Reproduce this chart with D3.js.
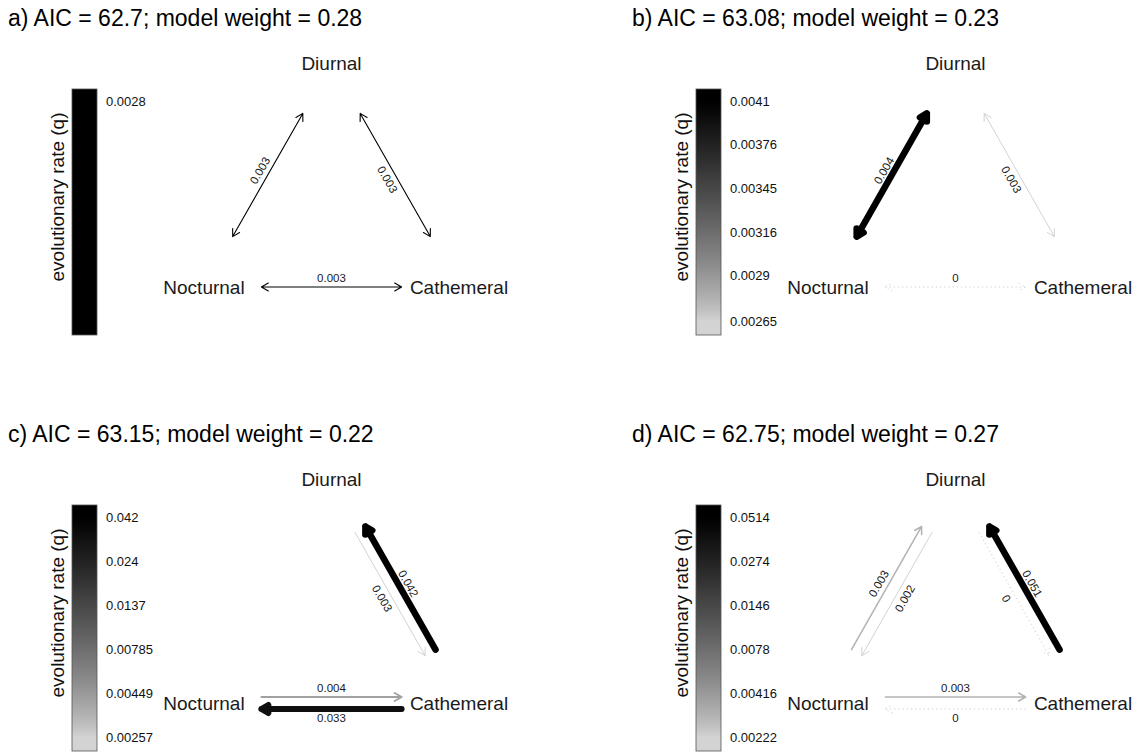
<!DOCTYPE html>
<html><head><meta charset="utf-8">
<script src="https://cdn.jsdelivr.net/npm/d3@7"></script>
<style>body{margin:0;background:#fff} svg{display:block}</style>
</head><body><svg id="chart" width="1138" height="752"></svg>
<script>
// ---------------- data ----------------
const states = ["Diurnal", "Nocturnal", "Cathemeral"];
const panelLetters = ["a", "b", "c", "d"];
const aicValues = ["62.7", "63.08", "63.15", "62.75"];
const modelWeights = ["0.28", "0.23", "0.22", "0.27"];
// transitions, listed in pairs (forward, reverse)
const transFrom = ["Nocturnal", "Diurnal", "Diurnal", "Cathemeral", "Nocturnal", "Cathemeral"];
const transTo   = ["Diurnal", "Nocturnal", "Cathemeral", "Diurnal", "Cathemeral", "Nocturnal"];
const ratesA = [0.0028, 0.0028, 0.0028, 0.0028, 0.0028, 0.0028];
const ratesB = [0.0041, 0.0041, 0.002652, 0.002652, 0, 0];
const ratesC = [null, null, 0.00257, 0.042, 0.0041, 0.033];
const ratesD = [0.003, 0.00222, 0, 0.0514, 0.003, 0];
const ticksA = ["0.0028"];
const ticksB = ["0.00265", "0.0029", "0.00316", "0.00345", "0.00376", "0.0041"];
const ticksC = ["0.00257", "0.00449", "0.00785", "0.0137", "0.024", "0.042"];
const ticksD = ["0.00222", "0.00416", "0.0078", "0.0146", "0.0274", "0.0514"];
const axisTitle = "evolutionary rate (q)";

const panels = [
  {rates: ratesA, ticks: ticksA},
  {rates: ratesB, ticks: ticksB},
  {rates: ratesC, ticks: ticksC},
  {rates: ratesD, ticks: ticksD}
].map((p, i) => Object.assign(p, {letter: panelLetters[i], aic: aicValues[i], weight: modelWeights[i]}));

// ---------------- layout ----------------
const FONT = "'Liberation Sans', Arial, Helvetica, sans-serif";
const svg = d3.select("#chart");
const defs = svg.append("defs");
const panelDX = 624, panelDY = 416;
const LIGHT = "#d3d3d3";
const rampBase = d3.interpolateRgb(LIGHT, "#000000");
const ramp = t => rampBase(Math.pow(Math.max(0, Math.min(1, t)), 0.8));

// diagram coordinate system: Nocturnal (0,0), Cathemeral (1,0), Diurnal (0.5,1)
const nodeCoord = {Diurnal: [0.5, 1], Nocturnal: [0, 0], Cathemeral: [1, 0]};
const xs = d3.scaleLinear().domain([0, 1]).range([204, 459]);
const ys = d3.scaleLinear().domain([0, 1]).range([287, 63]);

const shrink = 0.225, splitOff = 6, labelGap = 9, headLen = 8, headAng = Math.PI / 6;
const sideSign = (a, b) => ((a === "Diurnal" && b === "Cathemeral") || (a === "Cathemeral" && b === "Diurnal")) ? -1 : 1;

panels.forEach((p, pi) => {
  const g = svg.append("g")
    .attr("transform", `translate(${(pi % 2) * panelDX},${Math.floor(pi / 2) * panelDY})`);

  // title
  g.append("text").attr("x", 8).attr("y", 26)
    .attr("font-family", FONT).attr("font-size", 23).attr("fill", "#000")
    .text(`${p.letter}) AIC = ${p.aic}; model weight = ${p.weight}`);

  // rate scale
  const nz = p.rates.filter(v => v != null && v > 0);
  const rMin = d3.min(nz), rMax = d3.max(nz);
  const uniform = rMin === rMax;
  const ls = d3.scaleLog().domain([rMin, uniform ? rMin * 1.0001 : rMax]).range([0, 1]).clamp(true);
  const barY = d3.scaleLog().domain([rMin, uniform ? rMin * 1.0001 : rMax]).range([321, 101]);
  const colorOf = v => uniform ? "#000" : ramp(ls(v));
  const widthOf = v => uniform ? 1.1 : 1 + 5.5 * ls(v);

  // colour bar
  const gid = "grad" + pi;
  const grad = defs.append("linearGradient").attr("id", gid)
    .attr("gradientUnits", "userSpaceOnUse")
    .attr("x1", 0).attr("x2", 0)
    .attr("y1", barY(rMin))
    .attr("y2", barY(rMax));
  d3.range(0, 1.0001, 0.05).forEach(t => {
    grad.append("stop").attr("offset", t).attr("stop-color", ramp(t));
  });
  g.append("rect").attr("x", 72).attr("y", 89).attr("width", 25).attr("height", 246)
    .attr("fill", uniform ? "#000" : `url(#${gid})`)
    .attr("stroke", "#555").attr("stroke-width", 0.8);
  g.selectAll(".tick").data(p.ticks).join("text")
    .attr("x", 106)
    .attr("y", d => uniform ? barY.range()[1] : barY(+d))
    .attr("dy", "0.35em")
    .attr("font-family", FONT).attr("font-size", 13).attr("fill", "#111")
    .text(d => d);
  g.append("text")
    .attr("transform", "translate(57,197) rotate(-90)")
    .attr("text-anchor", "middle").attr("dy", "0.35em")
    .attr("font-family", FONT).attr("font-size", 19).attr("fill", "#111")
    .text(axisTitle);

  // node labels
  g.selectAll(".node").data(states).join("text")
    .attr("x", d => xs(nodeCoord[d][0]))
    .attr("y", d => ys(nodeCoord[d][1]))
    .attr("dy", "0.35em").attr("text-anchor", "middle")
    .attr("font-family", FONT).attr("font-size", 19).attr("fill", "#1a1a1a")
    .text(d => d);

  const fmt = v => String(Math.round(v * 1000) / 1000);

  function drawArrow(from, to, v, off, sign, both, labelOff) {
    const ax = xs(nodeCoord[from][0]), ay = ys(nodeCoord[from][1]);
    const bx = xs(nodeCoord[to][0]), by = ys(nodeCoord[to][1]);
    const dx = bx - ax, dy = by - ay, len = Math.hypot(dx, dy);
    const ux = dx / len, uy = dy / len;
    const nx = uy * sign, ny = -ux * sign;
    const x1 = ax + dx * shrink + nx * off, y1 = ay + dy * shrink + ny * off;
    const x2 = ax + dx * (1 - shrink) + nx * off, y2 = ay + dy * (1 - shrink) + ny * off;
    const zero = v === 0;
    const col = zero ? "#cdcdcd" : colorOf(v);
    const w = zero ? 1 : widthOf(v);
    const head = (tx, ty, vx, vy) => {
      const c = Math.cos(headAng), s = Math.sin(headAng);
      const r1x = -vx * c + vy * s, r1y = -vx * s - vy * c;
      const r2x = -vx * c - vy * s, r2y = vx * s - vy * c;
      return `M${tx + r1x * headLen},${ty + r1y * headLen}L${tx},${ty}L${tx + r2x * headLen},${ty + r2y * headLen}`;
    };
    let d = `M${x1},${y1}L${x2},${y2}` + head(x2, y2, ux, uy);
    if (both) d += head(x1, y1, -ux, -uy);
    g.append("path").attr("d", d).attr("fill", "none")
      .attr("stroke", col).attr("stroke-width", w)
      .attr("stroke-linecap", zero ? "butt" : "round").attr("stroke-linejoin", "round")
      .attr("stroke-dasharray", zero ? "1.2,3" : null);
    // label
    const mx = (ax + bx) / 2 + nx * labelOff, my = (ay + by) / 2 + ny * labelOff;
    let ang = Math.atan2(dy, dx) * 180 / Math.PI;
    if (ang > 90) ang -= 180;
    if (ang < -90) ang += 180;
    g.append("text")
      .attr("transform", `translate(${mx},${my}) rotate(${ang})`)
      .attr("text-anchor", "middle").attr("dy", "0.35em")
      .attr("font-family", FONT).attr("font-size", 11.5).attr("fill", "#1a1a1a")
      .text(fmt(v));
  }

  for (let k = 0; k < 3; k++) {
    const i = 2 * k, j = 2 * k + 1;
    const r1 = p.rates[i], r2 = p.rates[j];
    if (r1 == null && r2 == null) continue;
    if (r1 === r2) {
      drawArrow(transFrom[i], transTo[i], r1, 0, sideSign(transFrom[i], transTo[i]), true, labelGap);
    } else {
      [i, j].forEach(t => {
        if (p.rates[t] == null) return;
        drawArrow(transFrom[t], transTo[t], p.rates[t], splitOff, sideSign(transFrom[t], transTo[t]), false, splitOff + labelGap);
      });
    }
  }
});
</script></body></html>
